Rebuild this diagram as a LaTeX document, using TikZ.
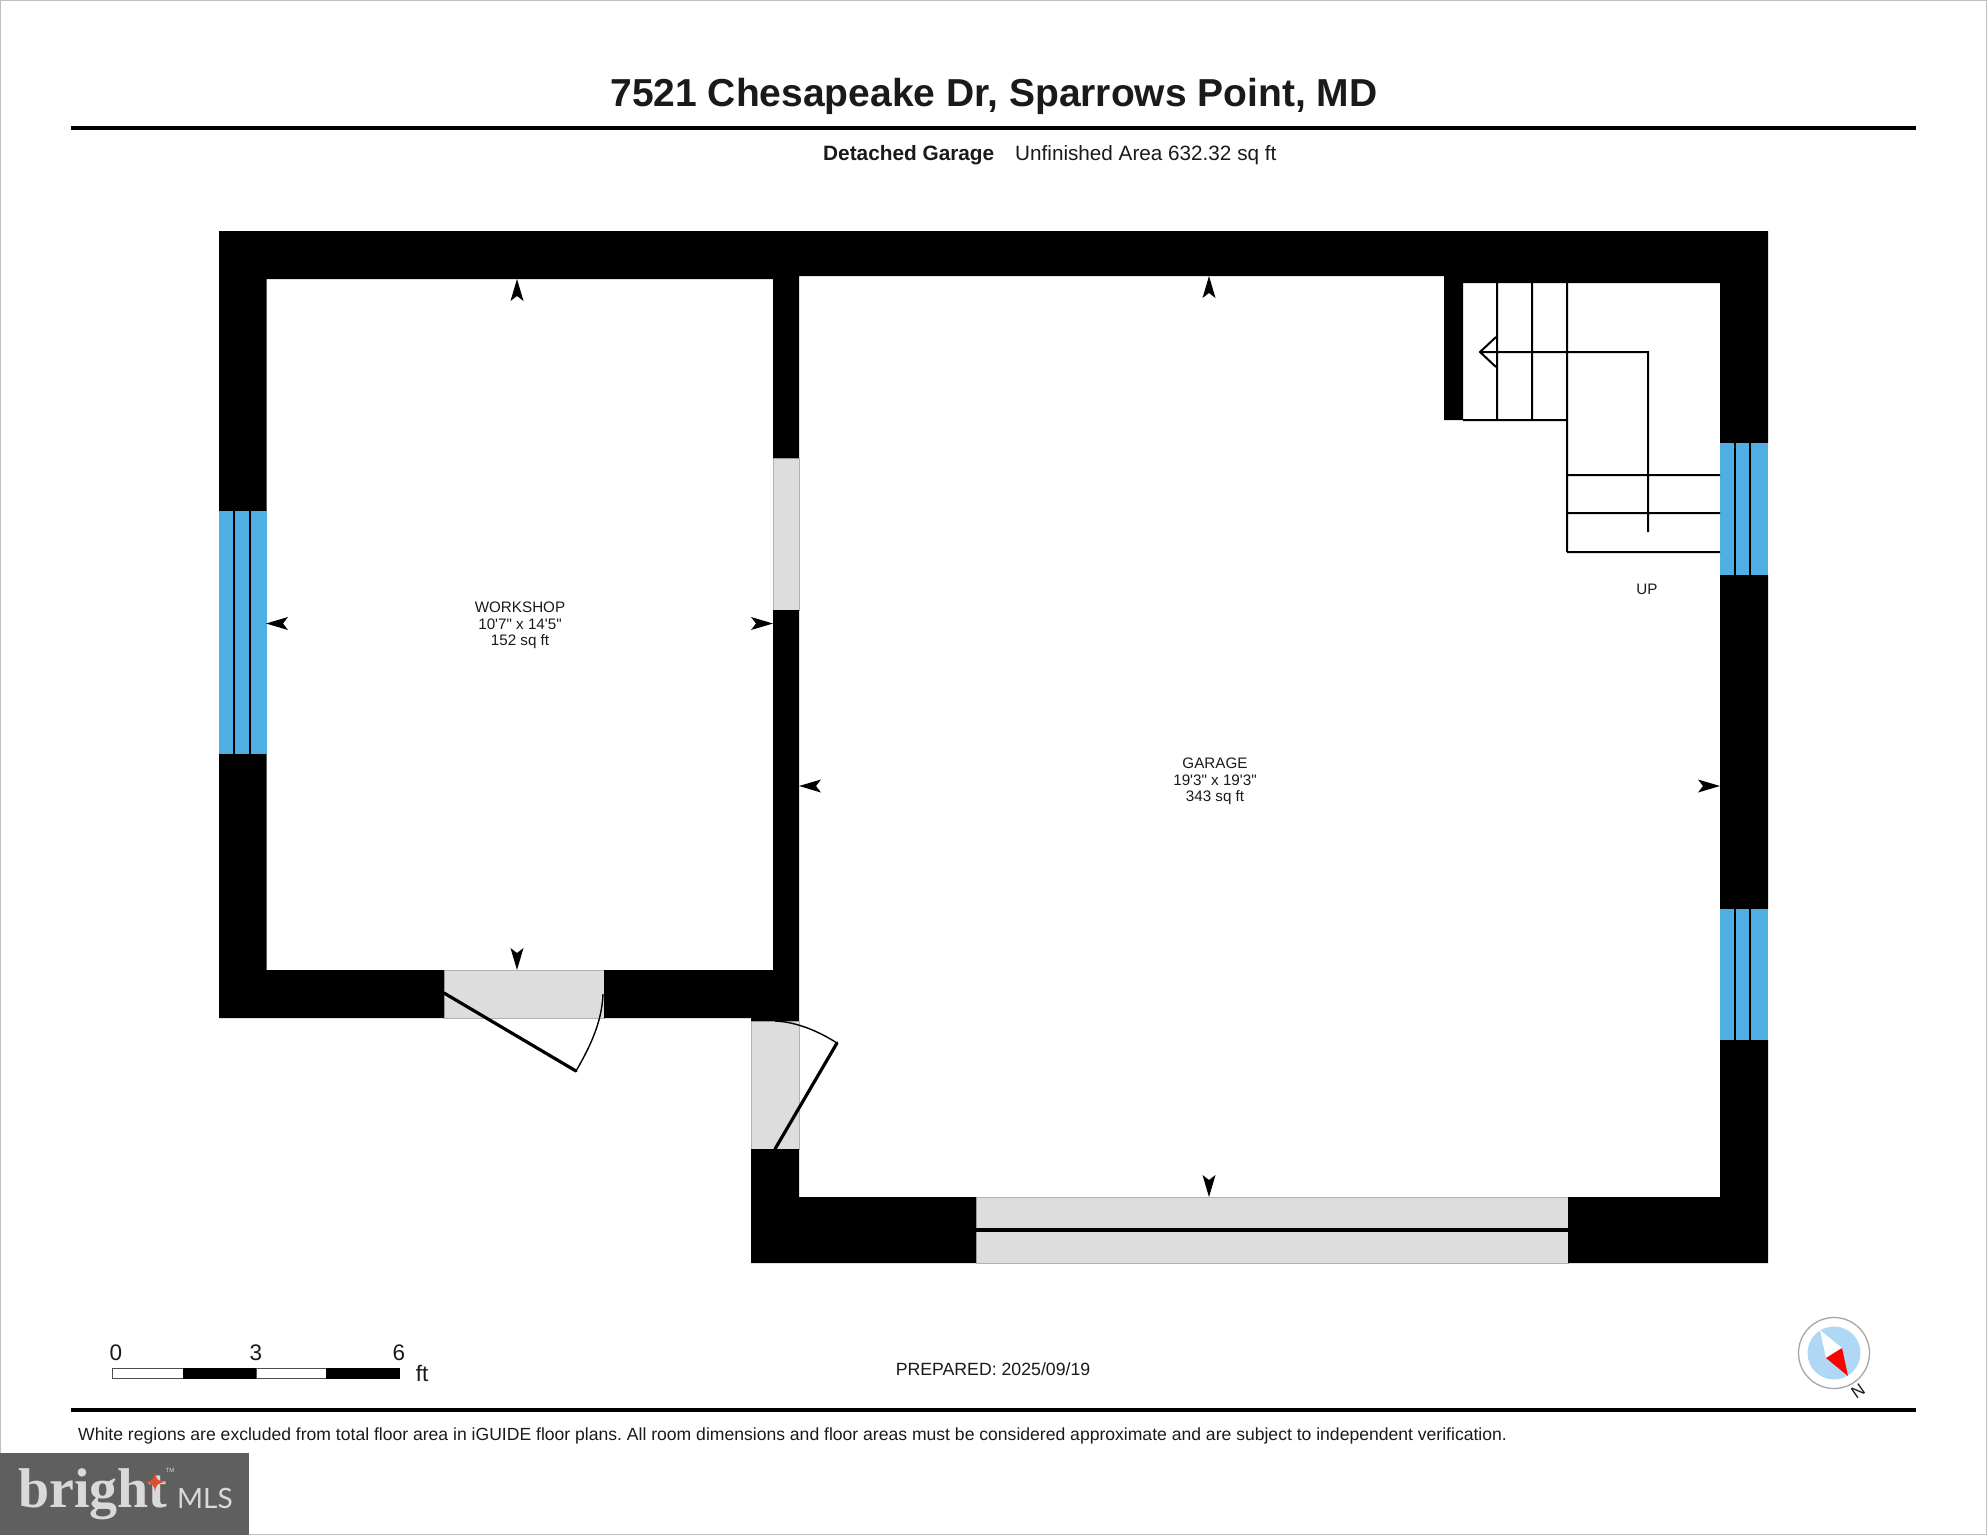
\documentclass[tikz,border=0pt]{standalone}
\usepackage{fontspec}
\setmainfont{Liberation Sans}
\newfontfamily\logoserif{Liberation Serif}
\newfontfamily\logosans{Lato}
\newfontfamily\roomfont{Liberation Sans}
\frenchspacing
\definecolor{wingray}{HTML}{DDDDDD}
\definecolor{winblue}{HTML}{4FAEE3}
\definecolor{compblue}{HTML}{AED8F3}
\definecolor{logogray}{HTML}{5F5F5F}
\definecolor{logotext}{HTML}{D9D9D9}
\definecolor{starorange}{HTML}{D9502E}
\definecolor{textgray}{HTML}{1A1A1A}
\tikzset{
  x=1pt,y=-1pt,
  wall/.style={fill=black,draw=none},
  opening/.style={fill=wingray,draw=black!30,line width=0.8pt},
  glass/.style={fill=winblue,draw=none},
  thinline/.style={draw=black,line width=2pt},
  leaf/.style={draw=black,line width=3.2pt},
  swing/.style={draw=black,line width=1.4pt},
  rule/.style={draw=black,line width=3.6pt},
  dart/.style={fill=black,draw=none},
  roomtext/.style={font=\roomfont\fontsize{15.2}{16.4}\selectfont,align=center,text=textgray,inner sep=0pt},
  smalltext/.style={font=\fontsize{17.7}{20}\selectfont,text=textgray,inner sep=0pt},
  scaletext/.style={font=\fontsize{22.5}{24}\selectfont,text=textgray,inner sep=0pt},
}
\newcommand{\dartmark}[2]{% tip position, rotation
  \fill[dart,shift={#1},rotate=#2] (0,0) -- (-22,-6.5) -- (-17,0) -- (-22,6.5) -- cycle;}
\begin{document}
\begin{tikzpicture}
\useasboundingbox (0,0) rectangle (1987,1535);
\fill[white] (0,0) rectangle (1987,1535);
\draw[draw=black!25,line width=1pt] (0.5,0.5) rectangle (1986.5,1534.5);

% header
\node[font=\fontsize{39}{40}\bfseries\selectfont,text=textgray,inner sep=0pt] (title) at (994,96) {7521 Chesapeake Dr, Sparrows Point, MD};
\coordinate (ruleAl) at (71,128); \coordinate (ruleAr) at (1916,128);
\draw[rule] (ruleAl) -- (ruleAr);
\node[smalltext,font=\fontsize{20.8}{20}\bfseries\selectfont,anchor=base west] (level) at (823,160) {Detached Garage};
\node[smalltext,font=\fontsize{20.7}{20}\selectfont,anchor=base west] (area) at (1015,160) {Unfinished Area 632.32 sq ft};

% openings
\fill[opening] (444,970) rectangle (604,1018);
\fill[opening] (751,1021) rectangle (799,1149);
\fill[opening] (773,458) rectangle (799,610);
\fill[opening] (976,1197) rectangle (1568,1263);
\draw[opening] (444,970) rectangle (604,1018);
\draw[opening] (751,1021) rectangle (799,1149);
\draw[opening] (976,1197) rectangle (1568,1263);

% walls
\fill[wall]
  (219,231) rectangle (773,279)
  (773,231) rectangle (799,458)
  (799,231) rectangle (1463,276)
  (1444,231) rectangle (1463,420)
  (1463,231) rectangle (1768,283)
  (1720,231) rectangle (1768,443)
  (1720,575) rectangle (1768,909)
  (1720,1040) rectangle (1768,1263)
  (219,231) rectangle (266.5,511)
  (219,754) rectangle (266.5,1018)
  (219,970) rectangle (444,1018)
  (604,970) rectangle (799,1018)
  (751,1018) rectangle (799,1021)
  (773,610) rectangle (799,1021)
  (751,1149) rectangle (799,1263)
  (751,1197) rectangle (976,1263)
  (1568,1197) rectangle (1768,1263);

% windows
\fill[glass] (219,511) rectangle (266.5,754);
\draw[thinline] (234,511) -- (234,754) (250,511) -- (250,754);
\fill[glass] (1720,443) rectangle (1768,575);
\draw[thinline] (1735,443) -- (1735,575) (1750,443) -- (1750,575);
\fill[glass] (1720,909) rectangle (1768,1040);
\draw[thinline] (1735,909) -- (1735,1040) (1750,909) -- (1750,1040);

% garage door
\draw[line width=3.4pt] (976,1230) -- (1568,1230);

% doors
\draw[leaf,line cap=round] (444,993) -- (576,1071);
\draw[swing] (576,1071) .. controls (590,1047) and (602,1022) .. (603,994);
\draw[leaf,line cap=round] (775,1149) -- (837,1043);
\draw[swing] (775,1021) .. controls (797,1022) and (818,1031) .. (837,1043);

% stairs
\draw[thinline]
  (1497,283) -- (1497,420)
  (1532,283) -- (1532,420)
  (1567,283) -- (1567,552)
  (1463,420) -- (1567,420)
  (1567,475) -- (1720,475)
  (1567,513) -- (1720,513)
  (1567,552) -- (1720,552)
  (1648,532) -- (1648,352) -- (1480,352)
  (1496,337) -- (1480,352) -- (1496,367);

% dimension marks
\dartmark{(517,279)}{90}
\dartmark{(266,623.5)}{180}
\dartmark{(773,623.5)}{0}
\dartmark{(517,970)}{-90}
\dartmark{(1209,276)}{90}
\dartmark{(799,786)}{180}
\dartmark{(1720,786)}{0}
\dartmark{(1209,1197)}{-90}

% room labels
\node[roomtext] (workshop) at (520,625.5) {WORKSHOP\\10'7" x 14'5"\\152 sq ft};
\node[roomtext] (garage) at (1215,781.5) {GARAGE\\19'3" x 19'3"\\343 sq ft};
\node[roomtext] (up) at (1647,589) {UP};

% scale bar
\fill[white,draw=black!70,line width=1pt] (112,1368.5) rectangle (183,1378.5);
\fill[black] (183,1368) rectangle (256,1379);
\fill[white,draw=black!70,line width=1pt] (256,1368.5) rectangle (326,1378.5);
\fill[black] (326,1368) rectangle (400,1379);
\node[scaletext] (s0) at (116,1353) {0};
\node[scaletext] (s3) at (256,1353) {3};
\node[scaletext] (s6) at (399,1353) {6};
\node[scaletext] (sft) at (422,1373) {ft};

\node[smalltext] (prep) at (993,1369) {PREPARED: 2025/09/19};

% compass
\draw[draw=black!35,line width=1.3pt,fill=white] (1834,1353) circle (35.5);
\fill[compblue] (1834,1353) circle (26.5);
\fill[white] (1820,1330) -- (1826,1358) -- (1842,1348) -- cycle;
\fill[red] (1848,1376) -- (1826,1358) -- (1842,1348) -- cycle;
\node[font=\fontsize{17}{18}\selectfont,rotate=35,inner sep=0pt,text=textgray] (north) at (1858,1391) {N};

% footer
\coordinate (ruleBl) at (71,1410); \coordinate (ruleBr) at (1916,1410);
\draw[rule] (ruleBl) -- (ruleBr);
\node[smalltext,font=\fontsize{17.57}{20}\selectfont,anchor=base west] (note) at (78,1440) {White regions are excluded from total floor area in iGUIDE floor plans. All room dimensions and floor areas must be considered approximate and are subject to independent verification.};

% logo
\fill[logogray] (0,1453) rectangle (249,1535);
\node[font=\logoserif\fontsize{56}{56}\bfseries\selectfont,text=logotext,inner sep=0pt,anchor=base west] (bright) at (18,1507) {bright};
\fill[starorange] (155,1472) .. controls (156,1479) and (157,1481) .. (166,1482) .. controls (157,1483) and (156,1485) .. (155,1492) .. controls (154,1485) and (153,1483) .. (144,1482) .. controls (153,1481) and (154,1479) .. (155,1472) -- cycle;
\node[font=\fontsize{6}{6}\selectfont,text=logotext,inner sep=0pt] (tm) at (170,1470) {TM};
\node[font=\logosans\fontsize{28}{28}\selectfont,text=logotext,inner sep=0pt,anchor=base west] (mls) at (177,1508) {MLS};
\end{tikzpicture}
\end{document}
